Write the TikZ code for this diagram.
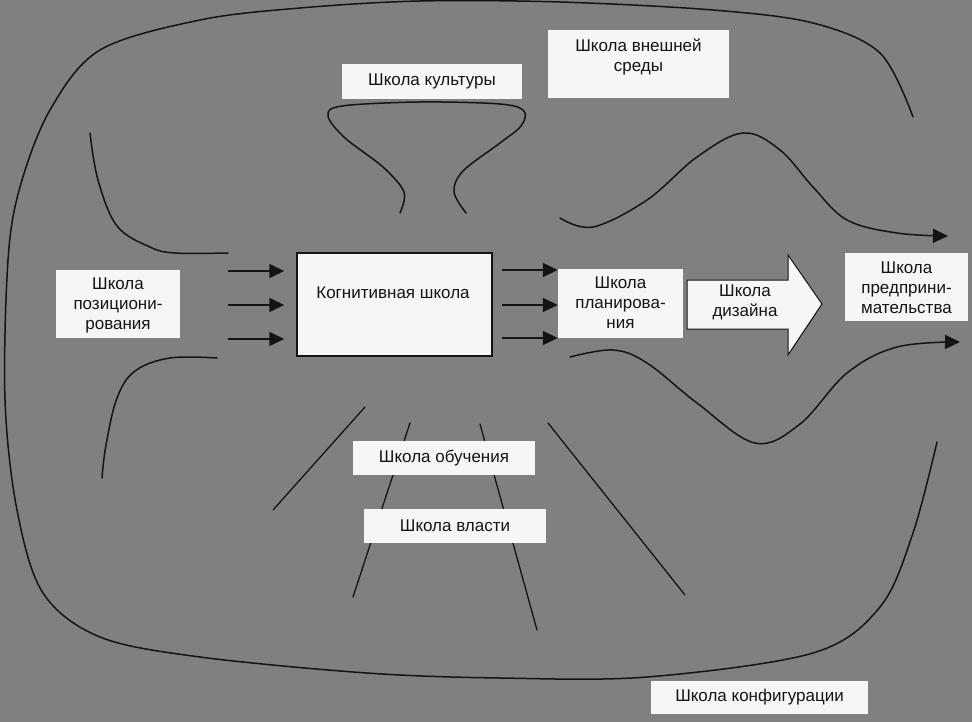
\documentclass[tikz,border=0pt]{standalone}
\usepackage{fontspec}
\setmainfont{Liberation Sans}
\usetikzlibrary{arrows.meta}
\definecolor{bg}{RGB}{128,128,128}
\definecolor{boxfill}{RGB}{246,246,246}
\definecolor{ink}{RGB}{20,20,20}
\tikzset{
  txt/.style={text=ink, align=center, inner sep=0pt, font=\fontsize{17}{20}\selectfont},
  wbox/.style={fill=boxfill, draw=none, inner sep=0pt},
  curve/.style={draw=ink, line width=1.5pt, line cap=round},
  thin/.style={draw=ink, line width=1.3pt, line cap=round},
  arr/.style={draw=ink, line width=1.6pt, -{Triangle[length=15pt,width=14pt]}},
}
\begin{document}
\begin{tikzpicture}[x=1pt,y=-1pt]
\fill[bg] (0,0) rectangle (972,722);
\useasboundingbox (0,0) rectangle (972,722);

% outer big curve
\draw[curve] plot[smooth, tension=0.55] coordinates {
 (913,117) (880,53) (813,23) (713,10) (560,2) (420,1) (300,8) (200,20) (100,50) (50,110) (20,187) (8,260) (5,400)
 (17,510) (43,593) (100,637) (200,657) (367,673) (500,678) (647,677) (813,653) (880,607) (913,533) (937,442)};

% culture funnel
\draw[curve] plot[smooth, tension=0.55] coordinates {
 (400,213) (404,192) (383,167) (345,138) (328,116) (342,106) (420,102) (500,104) (524,111) (521,126) (500,143) (463,171) (454,192) (466,213)};

% left curves
\draw[curve] plot[smooth, tension=0.6] coordinates {(90,133) (98,180) (117,226) (150,247) (175,253) (228,253)};
\draw[curve] plot[smooth, tension=0.6] coordinates {(217,358) (170,358) (135,371) (117,398) (106,445) (102,478)};

% lines around learning/power
\draw[thin] (365,407) -- (273,510);
\draw[thin] (410,423) -- (353,597);
\draw[thin] (480,424) -- (537,630);
\draw[thin] (548,423) -- (685,595);

% wave arrows
\draw[curve, -{Triangle[length=15pt,width=14pt]}] plot[smooth, tension=0.6] coordinates {
 (560,218) (593,227) (647,200) (697,157) (743,133) (780,150) (813,187) (847,220) (897,233) (948,236)};
\draw[curve, -{Triangle[length=15pt,width=14pt]}] plot[smooth, tension=0.6] coordinates {
 (570,357) (613,350) (647,363) (697,403) (755,443) (800,424) (847,373) (897,347) (960,342)};

% boxes
\node[wbox, minimum width=180pt, minimum height=35pt] (cult) at (432,81.5) {};
\node[txt] (cultt) at (cult.center) {Школа культуры};

\node[wbox, minimum width=181pt, minimum height=68pt] (env) at (638.5,64) {};
\node[txt] (envt) at (638.5,57) {Школа внешней\\среды};

\node[wbox, minimum width=124pt, minimum height=68pt] (pos) at (118,304) {};
\node[txt] (post) at (118,305) {Школа\\позициони-\\рования};

\node[draw=ink, line width=1.5pt, fill=boxfill, minimum width=195pt, minimum height=103pt, inner sep=0pt] (cog) at (394.5,304.5) {};
\node[txt] (cogt) at (393,293) {Когнитивная школа};

\node[wbox, minimum width=125pt, minimum height=69pt] (plan) at (620.5,303.5) {};
\node[txt] (plant) at (620.5,303) {Школа\\планирова-\\ния};

% design arrow
\draw[draw=ink, line width=1pt, fill=boxfill, line join=miter]
  (687,280) -- (788,280) -- (788,255) -- (822,304) -- (788,355) -- (788,329) -- (687,329) -- cycle;
\node[txt] (des) at (745,302) {Школа\\дизайна};

\node[wbox, minimum width=123pt, minimum height=68pt] (ent) at (906.5,287) {};
\node[txt] (entt) at (906.5,288) {Школа\\предприни-\\мательства};

\node[wbox, minimum width=182pt, minimum height=34pt] (learn) at (444,458) {};
\node[txt] (learnt) at (learn.center) {Школа обучения};

\node[wbox, minimum width=182pt, minimum height=34pt] (power) at (455,526) {};
\node[txt] (powert) at (power.center) {Школа власти};

\node[wbox, minimum width=217pt, minimum height=33pt] (conf) at (759.5,697.5) {};
\node[txt] (conft) at (conf.center) {Школа конфигурации};

% arrows into cognitive
\foreach \y/\n in {271/a, 305/b, 339/c} {
  \coordinate (in\n) at (228,\y);
  \draw[arr, shorten >=12pt] (in\n) -- (cog.west |- in\n);
}
% arrows into planning
\foreach \y/\n in {270/a, 305/b, 338/c} {
  \coordinate (out\n) at (502,\y);
  \draw[arr] (out\n) -- (plan.west |- out\n);
}
\end{tikzpicture}
\end{document}
